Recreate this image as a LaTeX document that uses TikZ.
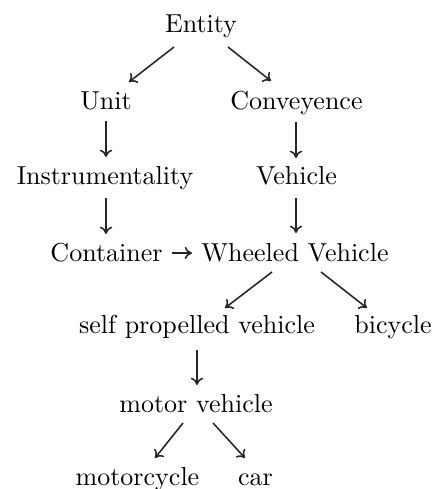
\documentclass[tikz,border=0pt]{standalone}
\usetikzlibrary{calc,arrows.meta}
\begin{document}
\begin{tikzpicture}[x=0.3846pt,y=-0.3846pt,
  lbl/.style={anchor=base,inner sep=0pt,outer sep=0pt},
  arr/.style={line width=0.6pt,draw=black!85,-{Computer Modern Rightarrow[length=2.8pt,width=4.8pt]}}]
\useasboundingbox (0,0) rectangle (436,489);
\node[lbl] (e)   at (201,32)    {Entity};
\node[lbl] (u)   at (106,109)   {Unit};
\node[lbl] (c)   at (296.5,109) {Conveyence};
\node[lbl] (i)   at (105,184)   {Instrumentality};
\node[lbl] (v)   at (296.5,184.5) {Vehicle};
\node[lbl] (ct)  at (106.5,261.5) {Container};
\node[lbl] (w)   at (295,261.5) {Wheeled Vehicle};
\node[lbl] (s)   at (197,333)   {self propelled vehicle};
\node[lbl] (b)   at (393,333)   {bicycle};
\node[lbl] (m)   at (196,412.5) {motor vehicle};
\node[lbl] (mc)  at (137.5,485) {motorcycle};
\node[lbl] (car) at (255.5,485) {car};
\draw[arr] ($(e.base)+(-27,15)$) -- ($(u.base)+(23,-27)$);
\draw[arr] ($(e.base)+(27,15)$) -- ($(c.base)+(-25.5,-28)$);
\draw[arr] ($(u.base)+(0,12)$) -- ($(i.base)+(1,-27)$);
\draw[arr] ($(c.base)+(-0.5,13)$) -- ($(v.base)+(-0.5,-26.5)$);
\draw[arr] ($(i.base)+(1,14)$) -- ($(ct.base)+(-0.5,-27.5)$);
\draw[arr] ($(v.base)+(-0.5,13.5)$) -- ($(w.base)+(1,-28.5)$);
\draw[arr] ($(ct.base)+(65.5,-8.5)$) -- ($(w.base)+(-103,-8.5)$);
\draw[arr] ($(w.base)+(-23,10.5)$) -- ($(s.base)+(28,-25)$);
\draw[arr] ($(w.base)+(26,10.5)$) -- ($(b.base)+(-26,-25)$);
\draw[arr] ($(s.base)+(0,17)$) -- ($(m.base)+(1,-27.5)$);
\draw[arr] ($(m.base)+(-13,10.5)$) -- ($(mc.base)+(17.5,-27)$);
\draw[arr] ($(m.base)+(17,10.5)$) -- ($(car.base)+(-10.5,-27)$);
\end{tikzpicture}
\end{document}
